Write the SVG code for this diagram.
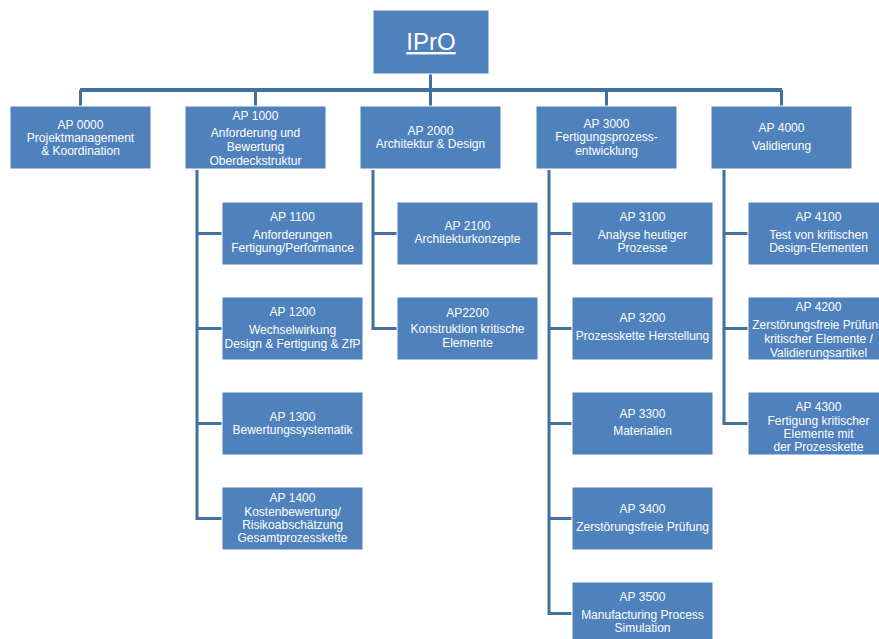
<svg xmlns="http://www.w3.org/2000/svg" width="879" height="639" viewBox="0 0 879 639">
<style>
.box{fill:#4F81BD;stroke:#ffffff;stroke-width:1}
.t{font-family:"Liberation Sans",Arial,sans-serif;font-size:12px;fill:#ffffff;text-anchor:middle}
.root{font-family:"Liberation Sans",Arial,sans-serif;font-size:24px;fill:#ffffff;text-anchor:middle;text-decoration:underline}
.c{fill:none;stroke:#41719C;stroke-width:3;stroke-linejoin:miter}
</style>
<rect width="879" height="639" fill="#ffffff"/>
<g id="connectors">
<path class="c" d="M80 90 H782" style="stroke-width:4"/>
<path class="c" d="M430.5 74 V106"/>
<path class="c" d="M80.5 90 V106"/>
<path class="c" d="M255.5 90 V106"/>
<path class="c" d="M606.5 90 V106"/>
<path class="c" d="M781.5 90 V106"/>
<path class="c" d="M197 170 V518.5 H222 M197 233.5 H222 M197 328.5 H222 M197 423.5 H222"/>
<path class="c" d="M373 170 V328.5 H397 M373 233.5 H397"/>
<path class="c" d="M549 170 V613.5 H572 M549 233.5 H572 M549 328.5 H572 M549 423.5 H572 M549 518.5 H572"/>
<path class="c" d="M724 170 V423.5 H748 M724 233.5 H748 M724 328.5 H748"/>
</g>
<g id="root"><rect class="box" x="373" y="10" width="116" height="64"/><text class="root" x="431" y="50">IPrO</text></g>
<g id="ap0000"><rect class="box" x="10" y="106" width="141" height="63"/>
<text class="t" x="80.5" y="128.5">AP 0000</text><text class="t" x="80.5" y="141.5">Projektmanagement</text><text class="t" x="80.5" y="154.5">&amp; Koordination</text></g>
<g id="ap1000"><rect class="box" x="185" y="106" width="141" height="63"/>
<text class="t" x="255.5" y="119.5">AP 1000</text><text class="t" x="255.5" y="137">Anforderung und</text><text class="t" x="255.5" y="151">Bewertung</text><text class="t" x="255.5" y="164.5">Oberdeckstruktur</text></g>
<g id="ap2000"><rect class="box" x="360" y="106" width="141" height="63"/>
<text class="t" x="430.5" y="134.5">AP 2000</text><text class="t" x="430.5" y="148">Architektur &amp; Design</text></g>
<g id="ap3000"><rect class="box" x="536" y="106" width="141" height="63"/>
<text class="t" x="606.5" y="128">AP 3000</text><text class="t" x="606.5" y="141">Fertigungsprozess-</text><text class="t" x="606.5" y="154.5">entwicklung</text></g>
<g id="ap4000"><rect class="box" x="711" y="106" width="141" height="63"/>
<text class="t" x="781.5" y="132">AP 4000</text><text class="t" x="781.5" y="150">Validierung</text></g>
<g id="ap1100"><rect class="box" x="222" y="202" width="141" height="63"/>
<text class="t" x="292.5" y="220.7">AP 1100</text><text class="t" x="292.5" y="238.7">Anforderungen</text><text class="t" x="292.5" y="252.3">Fertigung/Performance</text></g>
<g id="ap1200"><rect class="box" x="222" y="297" width="141" height="63"/>
<text class="t" x="292.5" y="315.7">AP 1200</text><text class="t" x="292.5" y="334">Wechselwirkung</text><text class="t" x="292.5" y="347.7">Design &amp; Fertigung &amp; ZfP</text></g>
<g id="ap1300"><rect class="box" x="222" y="392" width="141" height="63"/>
<text class="t" x="292.5" y="420.7">AP 1300</text><text class="t" x="292.5" y="434">Bewertungssystematik</text></g>
<g id="ap1400"><rect class="box" x="222" y="487" width="141" height="63"/>
<text class="t" x="292.5" y="502.3">AP 1400</text><text class="t" x="292.5" y="515.5">Kostenbewertung/</text><text class="t" x="292.5" y="529">Risikoabschätzung</text><text class="t" x="292.5" y="541.7">Gesamtprozesskette</text></g>
<g id="ap2100"><rect class="box" x="397" y="202" width="141" height="63"/>
<text class="t" x="467.5" y="230">AP 2100</text><text class="t" x="467.5" y="243.3">Architekturkonzepte</text></g>
<g id="ap2200"><rect class="box" x="397" y="297" width="141" height="63"/>
<text class="t" x="467.5" y="316.7">AP2200</text><text class="t" x="467.5" y="333.3">Konstruktion kritische</text><text class="t" x="467.5" y="347">Elemente</text></g>
<g id="ap3100"><rect class="box" x="572" y="202" width="141" height="63"/>
<text class="t" x="642.5" y="220.7">AP 3100</text><text class="t" x="642.5" y="238.7">Analyse heutiger</text><text class="t" x="642.5" y="252.3">Prozesse</text></g>
<g id="ap3200"><rect class="box" x="572" y="297" width="141" height="63"/>
<text class="t" x="642.5" y="322.3">AP 3200</text><text class="t" x="642.5" y="340">Prozesskette Herstellung</text></g>
<g id="ap3300"><rect class="box" x="572" y="392" width="141" height="63"/>
<text class="t" x="642.5" y="418.3">AP 3300</text><text class="t" x="642.5" y="435">Materialien</text></g>
<g id="ap3400"><rect class="box" x="572" y="487" width="141" height="63"/>
<text class="t" x="642.5" y="513.3">AP 3400</text><text class="t" x="642.5" y="530.7">Zerstörungsfreie Prüfung</text></g>
<g id="ap3500"><rect class="box" x="572" y="582" width="141" height="63"/>
<text class="t" x="642.5" y="600.7">AP 3500</text><text class="t" x="642.5" y="619">Manufacturing Process</text><text class="t" x="642.5" y="632.3">Simulation</text></g>
<g id="ap4100"><rect class="box" x="748" y="202" width="141" height="63"/>
<text class="t" x="818.5" y="220.7">AP 4100</text><text class="t" x="818.5" y="238.7">Test von kritischen</text><text class="t" x="818.5" y="252.3">Design-Elementen</text></g>
<g id="ap4200"><rect class="box" x="748" y="297" width="141" height="63"/>
<text class="t" x="818.5" y="311">AP 4200</text><text class="t" x="818.5" y="329">Zerstörungsfreie Prüfung</text><text class="t" x="818.5" y="342.7">kritischer Elemente /</text><text class="t" x="818.5" y="356.5">Validierungsartikel</text></g>
<g id="ap4300"><rect class="box" x="748" y="392" width="141" height="63"/>
<text class="t" x="818.5" y="410.7">AP 4300</text><text class="t" x="818.5" y="425">Fertigung kritischer</text><text class="t" x="818.5" y="437.7">Elemente mit</text><text class="t" x="818.5" y="451">der Prozesskette</text></g>
</svg>
